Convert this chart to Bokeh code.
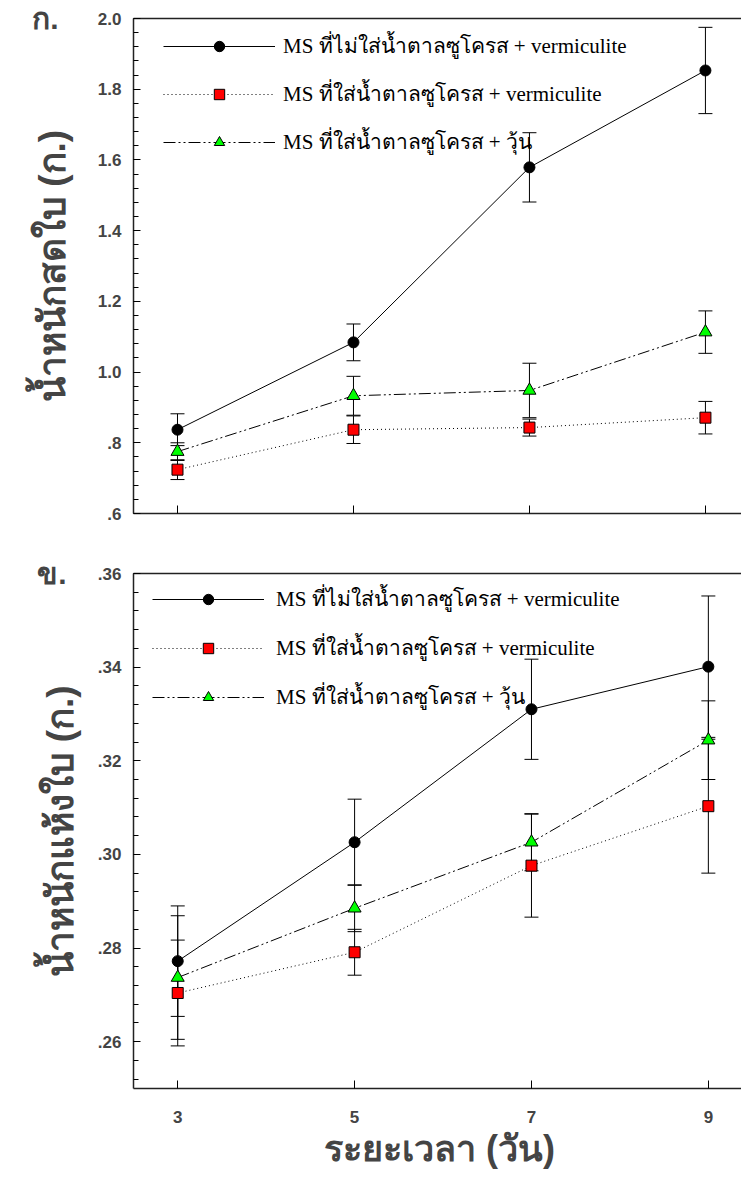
from bokeh.plotting import figure
from bokeh.models import (ColumnDataSource, Whisker, TeeHead, Legend, LegendItem,
                          LinearAxis, FixedTicker, SingleIntervalTicker,
                          CustomJSTickFormatter, Range1d)
from bokeh.layouts import column
from bokeh.embed import file_html
from bokeh.resources import INLINE

# ---------------- data ----------------
days = [3, 5, 7, 9]

series_names = [
    "MS ที่ไม่ใส่น้ำตาลซูโครส + vermiculite",
    "MS ที่ใส่น้ำตาลซูโครส + vermiculite",
    "MS ที่ใส่น้ำตาลซูโครส + วุ้น",
]

# fresh leaf weight (g)
fresh_no_sucrose = [0.837, 1.084, 1.579, 1.853]
fresh_no_sucrose_err = [0.045, 0.052, 0.098, 0.122]
fresh_sucrose_verm = [0.724, 0.837, 0.843, 0.871]
fresh_sucrose_verm_err = [0.028, 0.039, 0.024, 0.046]
fresh_sucrose_agar = [0.775, 0.933, 0.948, 1.113]
fresh_sucrose_agar_err = [0.025, 0.055, 0.077, 0.060]

# dry leaf weight (g)
dry_no_sucrose = [0.2772, 0.3026, 0.3310, 0.3401]
dry_no_sucrose_err = [0.0118, 0.0092, 0.0107, 0.0151]
dry_sucrose_verm = [0.2704, 0.2791, 0.2976, 0.3103]
dry_sucrose_verm_err = [0.0113, 0.0049, 0.0110, 0.0143]
dry_sucrose_agar = [0.2737, 0.2885, 0.3026, 0.3244]
dry_sucrose_agar_err = [0.0132, 0.0050, 0.0061, 0.0084]

x_ticks = [3, 5, 7, 9]

title_fresh = "น้ำหนักสดใบ (ก.)"
title_dry = "น้ำหนักแห้งใบ (ก.)"
title_x = "ระยะเวลา (วัน)"
panel_a = "ก."
panel_b = "ข."

# ---------------- styles ----------------
TICK_FONT = "Liberation Sans"
THAI_BOLD = "Liberation Sans"
LEGEND_FONT = "Liberation Serif"

styles = [
    dict(dash="solid", marker="circle", size=11, fill="black"),
    dict(dash="1 3", marker="square", size=11, fill="#ff0000"),
    dict(dash="12 3 2 3 2 3", marker="triangle", size=13, fill="#00ff00"),
]


def make_panel(vals, errs, yr, interval, digits, ytitle, plabel, frame_w, frame_h,
               b_left, b_top, b_bottom, xend, show_x, leg_xy, leg_spacing, leg_standoff,
               ytitle_standoff, plabel_baseline):
    p = figure(frame_width=frame_w, frame_height=frame_h,
               x_range=Range1d(2.5, xend), y_range=Range1d(*yr),
               output_backend="svg", toolbar_location=None,
               min_border_left=b_left, min_border_right=0,
               min_border_top=b_top, min_border_bottom=b_bottom,
               x_axis_type=None, y_axis_type=None)
    p.outline_line_color = None
    p.xgrid.visible = False
    p.ygrid.visible = False
    p.background_fill_color = "white"
    p.border_fill_color = "white"

    # x axis
    if show_x:
        xa = LinearAxis(ticker=FixedTicker(ticks=x_ticks))
        xa.major_tick_in = 8
        xa.major_tick_out = 0
        xa.major_tick_line_width = 1
        xa.major_label_text_font = TICK_FONT
        xa.major_label_text_font_style = "bold"
        xa.major_label_text_font_size = "17px"
        xa.major_label_standoff = 22
        xa.axis_label = title_x
        xa.axis_label_text_font = THAI_BOLD
        xa.axis_label_text_font_style = "bold"
        xa.axis_label_text_font_size = "36px"
        xa.axis_label_standoff = 2
        xa.minor_tick_line_color = None
    else:
        xa = LinearAxis(ticker=FixedTicker(ticks=[], minor_ticks=x_ticks))
        xa.minor_tick_in = 8
        xa.minor_tick_out = 0
        xa.minor_tick_line_width = 1
        xa.minor_tick_line_color = "black"
        xa.major_tick_line_color = None
    xa.axis_line_width = 1.5
    xa.axis_line_color = "#222222"
    p.add_layout(xa, "below")

    # y axis
    ya = LinearAxis(ticker=SingleIntervalTicker(interval=interval, num_minor_ticks=5))
    ya.formatter = CustomJSTickFormatter(
        code="return tick.toFixed(%d).replace(/^0\\./, '.');" % digits)
    ya.axis_line_width = 1.5
    ya.axis_line_color = "#222222"
    ya.major_tick_in = 7
    ya.major_tick_out = 0
    ya.minor_tick_in = 5
    ya.minor_tick_out = 0
    ya.major_label_text_font = TICK_FONT
    ya.major_label_text_font_style = "bold"
    ya.major_label_text_font_size = "17px"
    ya.major_label_standoff = 12
    ya.axis_label = ytitle
    ya.axis_label_text_font = THAI_BOLD
    ya.axis_label_text_font_style = "bold"
    ya.axis_label_text_font_size = "37px"
    ya.axis_label_standoff = ytitle_standoff
    p.add_layout(ya, "left")

    # panel letter (horizontal label of a tick-less outer axis, aligned to the top)
    pa = LinearAxis(ticker=FixedTicker(ticks=[]), axis_label=plabel,
                    axis_label_orientation="horizontal", axis_label_align="end",
                    axis_label_standoff=-30)
    pa.axis_line_color = None
    pa.major_tick_line_color = None
    pa.minor_tick_line_color = None
    pa.axis_label_text_font = THAI_BOLD
    pa.axis_label_text_font_style = "bold"
    pa.axis_label_text_font_size = "30px"
    if plabel_baseline is not None:
        pa.axis_label_text_baseline = plabel_baseline
    p.add_layout(pa, "left")

    # top border line
    ta = LinearAxis(ticker=FixedTicker(ticks=[]))
    ta.axis_line_width = 1.5
    ta.axis_line_color = "#222222"
    ta.major_tick_line_color = None
    ta.minor_tick_line_color = None
    p.add_layout(ta, "above")

    items = []
    for v, e, st, name in zip(vals, errs, styles, series_names):
        src = ColumnDataSource(dict(
            x=days, y=v,
            upper=[a + b for a, b in zip(v, e)],
            lower=[a - b for a, b in zip(v, e)]))
        w = Whisker(base="x", upper="upper", lower="lower", source=src,
                    line_color="black", line_width=1,
                    upper_head=TeeHead(size=14, line_color="black", line_width=1),
                    lower_head=TeeHead(size=14, line_color="black", line_width=1))
        p.add_layout(w)
        ln = p.line("x", "y", source=src, line_color="black", line_width=1,
                    line_dash=st["dash"])
        sc = p.scatter("x", "y", source=src, marker=st["marker"], size=st["size"],
                       fill_color=st["fill"], line_color="black", line_width=1)
        items.append(LegendItem(label=name, renderers=[ln, sc]))

    leg = Legend(items=items, location=leg_xy, glyph_width=112, glyph_height=26,
                 label_height=26, spacing=leg_spacing, label_standoff=leg_standoff,
                 padding=0, margin=0, border_line_color=None,
                 background_fill_alpha=0,
                 label_text_font=LEGEND_FONT, label_text_font_size="21px",
                 label_text_color="black")
    p.add_layout(leg)
    return p


p1 = make_panel([fresh_no_sucrose, fresh_sucrose_verm, fresh_sucrose_agar],
                [fresh_no_sucrose_err, fresh_sucrose_verm_err, fresh_sucrose_agar_err],
                (0.6, 2.0), 0.2, 1, title_fresh, panel_a,
                frame_w=608, frame_h=495, b_left=133, b_top=18, b_bottom=30,
                xend=9.41, show_x=False, leg_xy=(30, 355), leg_spacing=15,
                leg_standoff=8, ytitle_standoff=22, plabel_baseline="top")

p2 = make_panel([dry_no_sucrose, dry_sucrose_verm, dry_sucrose_agar],
                [dry_no_sucrose_err, dry_sucrose_verm_err, dry_sucrose_agar_err],
                (0.25, 0.36), 0.02, 2, title_dry, panel_b,
                frame_w=612, frame_h=515, b_left=129, b_top=30, b_bottom=85,
                xend=9.42, show_x=True, leg_xy=(43, 375), leg_spacing=16,
                leg_standoff=12, ytitle_standoff=14, plabel_baseline=None)

layout = column(p1, p2, spacing=0)
open("out.html", "w").write(file_html(layout, INLINE))
